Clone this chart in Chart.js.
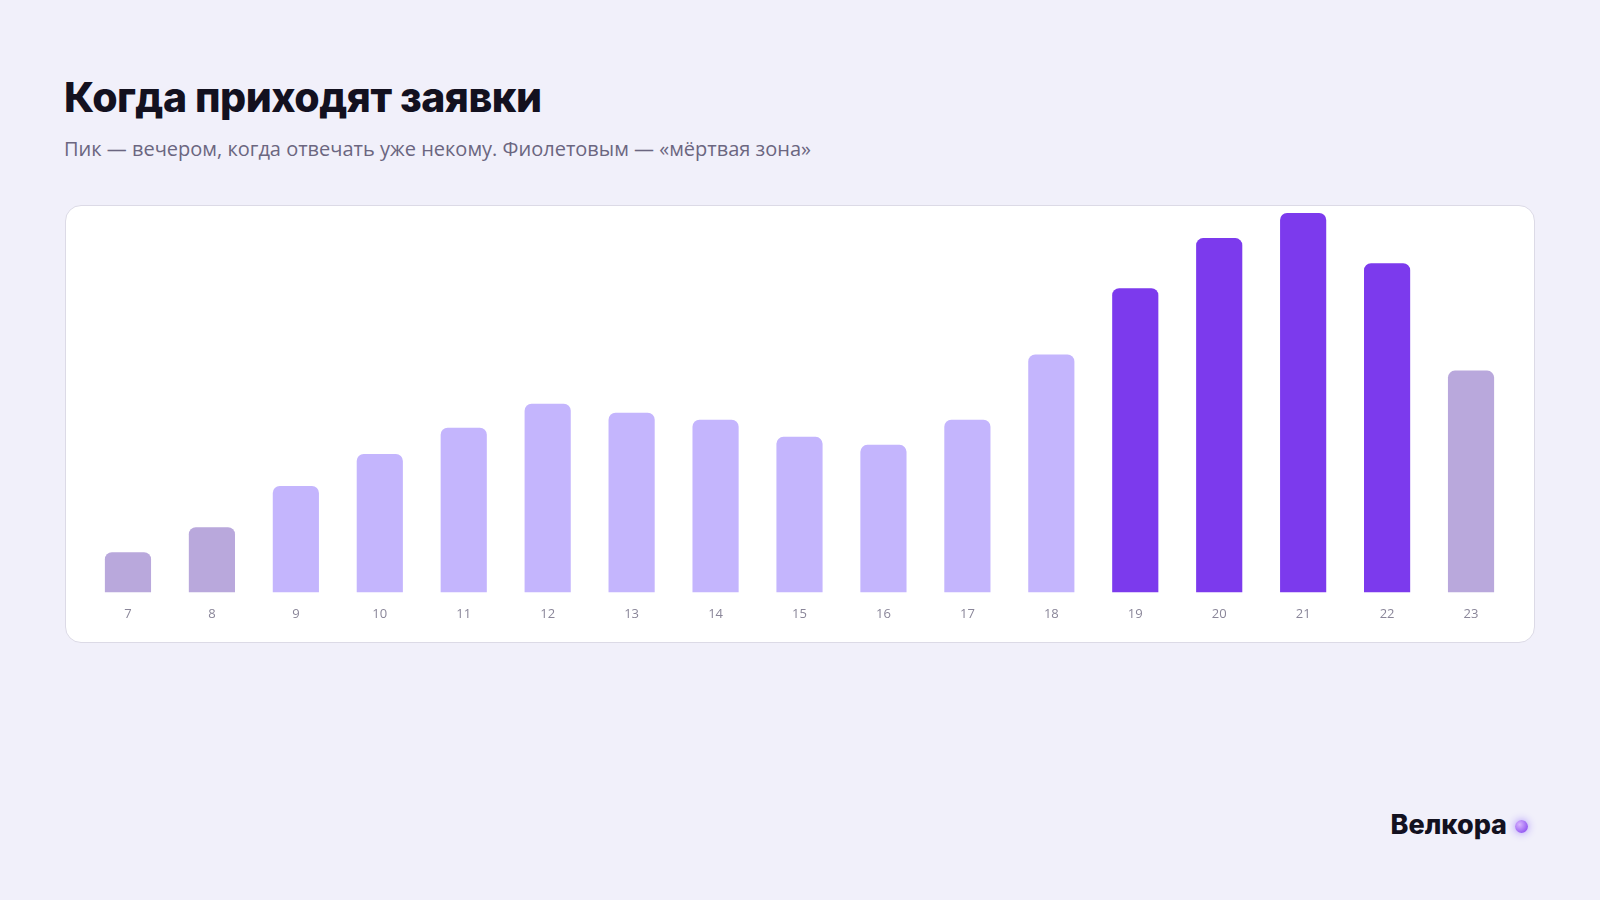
<!DOCTYPE html>
<html><head><meta charset="utf-8">
<script src="https://cdn.jsdelivr.net/npm/chart.js@4"></script>
<style>
body{margin:0;width:1600px;height:900px;background:#f1f0fa;font-family:"Open Sans",sans-serif;position:relative;overflow:hidden}
h1{position:absolute;left:64px;top:72px;margin:0;font-family:Inter,sans-serif;font-weight:800;font-size:41px;color:#13111f;letter-spacing:-0.5px}
.sub{position:absolute;left:64px;top:135px;font-size:20px;color:#6b6680}
.card{position:absolute;left:65px;top:205px;width:1470px;height:438px;background:#fff;border:1px solid #dcdae6;border-radius:16px;box-sizing:border-box}
.card canvas{position:absolute;left:0;top:0}
.logo{position:absolute;right:72px;top:808px;font-family:Inter,sans-serif;font-weight:800;font-size:27px;color:#13111f}
.dot{display:inline-block;width:13px;height:13px;border-radius:50%;background:radial-gradient(circle at 35% 35%,#d8b4fe,#7c3aed);box-shadow:0 0 8px #a78bfa;margin-left:8px;vertical-align:middle}
</style></head><body>
<h1>Когда приходят заявки</h1>
<div class="sub">Пик — вечером, когда отвечать уже некому. Фиолетовым — «мёртвая зона»</div>
<div class="card"><canvas id="c" width="1468" height="436"></canvas></div>
<div class="logo">Велкора<span class="dot"></span></div>
<script>
const hours=["7","8","9","10","11","12","13","14","15","16","17","18","19","20","21","22","23"];
const requests=[40,65,106,138,164,188,179,172,155,147,172,237,303,353,378,328,221];
const zone=["off","off","day","day","day","day","day","day","day","day","day","day","dead","dead","dead","dead","off"];
const colorMap={off:"#b9a8dc",day:"#c4b5fd",dead:"#7c3aed"};
new Chart(document.getElementById("c"),{type:"bar",
data:{labels:hours,datasets:[{data:requests,backgroundColor:zone.map(z=>colorMap[z]),borderRadius:{topLeft:7,topRight:7},borderSkipped:"bottom",categoryPercentage:0.55,barPercentage:1}]},
options:{responsive:false,animation:false,layout:{padding:{left:20,right:21,top:6,bottom:14}},
plugins:{legend:{display:false},tooltip:{enabled:false}},
scales:{x:{grid:{display:false},border:{display:false},ticks:{color:"#8a8699",font:{family:"Open Sans",size:13},padding:6}},
y:{display:false,min:0,max:379}}}});
</script></body></html>
